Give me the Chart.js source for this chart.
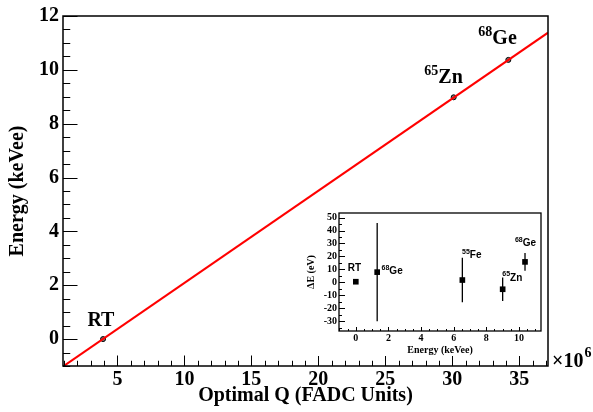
<!DOCTYPE html>
<html lang="en">
<head>
    <meta charset="UTF-8">
    <title>Energy calibration</title>
    <style>
        body {
            margin: 0;
            background: #fff;
            overflow: hidden;
        }
        #wrap {
            position: relative;
            width: 593px;
            height: 412px;
        }
        #inset {
            position: absolute;
            left: 303px;
            top: 205px;
            background: #fff;
        }
    </style>
    <script src="https://cdn.jsdelivr.net/npm/chart.js"></script>
</head>
<body>

<div id="wrap">
    <canvas id="mainChart" width="593" height="412"></canvas>
    <canvas id="inset" width="243" height="151"></canvas>
</div>

<script>
    // calibration points: Optimal Q (x 10^6 FADC units) vs energy (keVee)
    const calibName = ['RT', '65Zn', '68Ge'];
    const calibQ = [3.93, 30.1, 34.18];
    const calibE = [0, 8.98, 10.37];

    // linear fit, read at the two ends of the frame
    const fitQ = [0.94, 37.14];
    const fitE = [-1.02, 11.38];

    const xTickVals = [5, 10, 15, 20, 25, 30, 35];
    const yTickVals = [0, 2, 4, 6, 8, 10, 12];

    // labels on the main plot (left edge / baseline, data units)
    const mainLabelText = ['RT', 'Zn', 'Ge'];
    const mainLabelSup = ['', '65', '68'];
    const mainLabelQ = [2.76, 27.91, 31.94];
    const mainLabelE = [0.49, 9.50, 10.95];

    // residuals (inset)
    const resE = [0, 1.31, 6.53, 9.0, 10.37];
    const resDelta = [0.5, 7.9, 1.8, -5.3, 15.8];
    const resErr = [0, 37.8, 17.1, 9.0, 6.9];

    const insetXTicks = [0, 2, 4, 6, 8, 10];
    const insetYTicks = [-30, -20, -10, 0, 10, 20, 30, 40, 50];

    const insetLabelText = ['RT', 'Ge', 'Fe', 'Zn', 'Ge'];
    const insetLabelSup = ['', '68', '55', '65', '68'];
    const insetLabelX = [-0.49, 1.58, 6.51, 8.98, 9.75];
    const insetLabelY = [8.6, 6.1, 18.9, 1.3, 27.8];

    const SERIF = "'Liberation Serif', 'Times New Roman', serif";
    const SANS = "'Liberation Sans', Arial, sans-serif";

    // frame + ROOT style inward ticks
    function frameTicks(id, cfg) {
        return {
            id: id,
            afterDatasetsDraw(chart) {
                const { ctx, chartArea: a, scales: { x, y } } = chart;
                ctx.save();
                ctx.strokeStyle = '#000';
                ctx.lineWidth = 1;
                ctx.beginPath();
                const x0 = Math.ceil(x.min / cfg.xMinor) * cfg.xMinor;
                for (let v = x0; v <= x.max + 1e-9; v += cfg.xMinor) {
                    const major = Math.abs(v / cfg.xMajor - Math.round(v / cfg.xMajor)) < 1e-6;
                    const px = Math.round(x.getPixelForValue(v)) + 0.5;
                    ctx.moveTo(px, a.bottom);
                    ctx.lineTo(px, a.bottom - (major ? cfg.xLen : cfg.xLen / 2));
                }
                const y0 = Math.ceil(y.min / cfg.yMinor) * cfg.yMinor;
                for (let v = y0; v <= y.max + 1e-9; v += cfg.yMinor) {
                    const major = Math.abs(v / cfg.yMajor - Math.round(v / cfg.yMajor)) < 1e-6;
                    const py = Math.round(y.getPixelForValue(v)) + 0.5;
                    ctx.moveTo(a.left, py);
                    ctx.lineTo(a.left + (major ? cfg.yLen : cfg.yLen / 2), py);
                }
                ctx.stroke();
                ctx.lineWidth = cfg.frame;
                ctx.strokeRect(a.left, a.top, a.right - a.left, a.bottom - a.top);
                ctx.restore();
            }
        };
    }

    // text with optional leading superscript, placed in data units
    function textLabels(id, texts, sups, xs, ys, font, size, supSize) {
        return {
            id: id,
            afterDraw(chart) {
                const { ctx, scales: { x, y } } = chart;
                ctx.save();
                ctx.fillStyle = '#000';
                ctx.textBaseline = 'alphabetic';
                ctx.textAlign = 'left';
                texts.forEach((t, i) => {
                    let px = x.getPixelForValue(xs[i]);
                    const py = y.getPixelForValue(ys[i]);
                    if (sups[i]) {
                        ctx.font = 'bold ' + supSize + 'px ' + font;
                        ctx.fillText(sups[i], px, py - size * 0.42);
                        px += ctx.measureText(sups[i]).width;
                    }
                    ctx.font = 'bold ' + size + 'px ' + font;
                    ctx.fillText(t, px, py);
                });
                ctx.restore();
            }
        };
    }

    const exponentLabel = {
        id: 'exponent',
        afterDraw(chart) {
            const { ctx, chartArea: a } = chart;
            ctx.save();
            ctx.fillStyle = '#000';
            ctx.textBaseline = 'alphabetic';
            ctx.font = 'bold 20px ' + SERIF;
            ctx.fillText('\u00d710', a.right + 4, a.bottom + 1);
            const w = ctx.measureText('\u00d710').width;
            ctx.font = 'bold 14px ' + SERIF;
            ctx.fillText('6', a.right + 5 + w, a.bottom - 9);
            ctx.restore();
        }
    };

    const errorBars = {
        id: 'errorBars',
        beforeDatasetsDraw(chart) {
            const { ctx, scales: { x, y } } = chart;
            ctx.save();
            ctx.strokeStyle = '#000';
            ctx.lineWidth = 1.3;
            ctx.beginPath();
            resE.forEach((e, i) => {
                if (!resErr[i]) return;
                const px = x.getPixelForValue(e);
                ctx.moveTo(px, y.getPixelForValue(resDelta[i] + resErr[i]));
                ctx.lineTo(px, y.getPixelForValue(resDelta[i] - resErr[i]));
            });
            ctx.stroke();
            ctx.restore();
        }
    };

    // ---- main calibration plot
    new Chart(document.getElementById('mainChart'), {
        type: 'scatter',
        data: {
            datasets: [
                {
                    type: 'line',
                    data: fitQ.map((q, i) => ({ x: q, y: fitE[i] })),
                    borderColor: '#ff0000',
                    borderWidth: 2,
                    pointRadius: 0,
                    fill: false
                },
                {
                    data: calibQ.map((q, i) => ({ x: q, y: calibE[i] })),
                    pointRadius: 2.5,
                    pointBorderWidth: 1,
                    pointBorderColor: '#000',
                    pointBackgroundColor: '#777'
                }
            ]
        },
        options: {
            responsive: false,
            animation: false,
            devicePixelRatio: 1,
            layout: { padding: { top: 16, right: 45, left: 0, bottom: 0 } },
            plugins: { legend: { display: false }, tooltip: { enabled: false } },
            scales: {
                x: {
                    type: 'linear',
                    min: fitQ[0],
                    max: fitQ[1],
                    afterBuildTicks: s => { s.ticks = xTickVals.map(v => ({ value: v })); },
                    afterFit: s => { s.height = 46; },
                    grid: { display: false, drawTicks: false },
                    border: { display: false },
                    ticks: {
                        color: '#000',
                        padding: 2,
                        autoSkip: false,
                        maxRotation: 0,
                        font: { family: SERIF, weight: 'bold', size: 20 }
                    },
                    title: {
                        display: true,
                        text: 'Optimal Q (FADC Units)',
                        color: '#000',
                        padding: { top: 0, bottom: 4 },
                        font: { family: SERIF, weight: 'bold', size: 20 }
                    }
                },
                y: {
                    min: -1,
                    max: 12,
                    afterBuildTicks: s => { s.ticks = yTickVals.map(v => ({ value: v })); },
                    afterFit: s => { s.width = 63; },
                    grid: { display: false, drawTicks: false },
                    border: { display: false },
                    ticks: {
                        color: '#000',
                        padding: 4,
                        autoSkip: false,
                        font: { family: SERIF, weight: 'bold', size: 20 }
                    },
                    title: {
                        display: true,
                        text: 'Energy (keVee)',
                        color: '#000',
                        padding: { top: 6, bottom: 0 },
                        font: { family: SERIF, weight: 'bold', size: 20 }
                    }
                }
            }
        },
        plugins: [
            frameTicks('mainFrame', { xMajor: 5, xMinor: 1, yMajor: 2, yMinor: 0.5, xLen: 10.5, yLen: 14.5, frame: 1.5 }),
            textLabels('mainText', mainLabelText, mainLabelSup, mainLabelQ, mainLabelE, SERIF, 20, 14),
            exponentLabel
        ]
    });

    // ---- residual inset
    new Chart(document.getElementById('inset'), {
        type: 'scatter',
        data: {
            datasets: [{
                data: resE.map((e, i) => ({ x: e, y: resDelta[i] })),
                pointStyle: 'rect',
                pointRadius: 4,
                pointBorderWidth: 0,
                pointBackgroundColor: '#000'
            }]
        },
        options: {
            responsive: false,
            animation: false,
            devicePixelRatio: 1,
            layout: { padding: { top: 7, right: 5, left: 0, bottom: 0 } },
            plugins: { legend: { display: false }, tooltip: { enabled: false } },
            scales: {
                x: {
                    type: 'linear',
                    min: -1.03,
                    max: 11.35,
                    afterBuildTicks: s => { s.ticks = insetXTicks.map(v => ({ value: v })); },
                    afterFit: s => { s.height = 25; },
                    grid: { display: false, drawTicks: false },
                    border: { display: false },
                    ticks: {
                        color: '#000',
                        padding: 1,
                        autoSkip: false,
                        maxRotation: 0,
                        font: { family: SERIF, weight: 'bold', size: 10 }
                    },
                    title: {
                        display: true,
                        text: 'Energy (keVee)',
                        color: '#000',
                        padding: { top: 0, bottom: 0 },
                        font: { family: SERIF, weight: 'bold', size: 10 }
                    }
                },
                y: {
                    min: -37.5,
                    max: 53.5,
                    afterBuildTicks: s => { s.ticks = insetYTicks.map(v => ({ value: v })); },
                    afterFit: s => { s.width = 36; },
                    grid: { display: false, drawTicks: false },
                    border: { display: false },
                    ticks: {
                        color: '#000',
                        padding: 2,
                        autoSkip: false,
                        font: { family: SERIF, weight: 'bold', size: 10 }
                    },
                    title: {
                        display: true,
                        text: '\u0394E (eV)',
                        color: '#000',
                        padding: { top: 2, bottom: 0 },
                        font: { family: SERIF, weight: 'bold', size: 10 }
                    }
                }
            }
        },
        plugins: [
            errorBars,
            frameTicks('insetFrame', { xMajor: 2, xMinor: 0.5, yMajor: 10, yMinor: 5, xLen: 4, yLen: 6, frame: 1.3 }),
            textLabels('insetText', insetLabelText, insetLabelSup, insetLabelX, insetLabelY, SANS, 10, 7)
        ]
    });
</script>

</body>
</html>
